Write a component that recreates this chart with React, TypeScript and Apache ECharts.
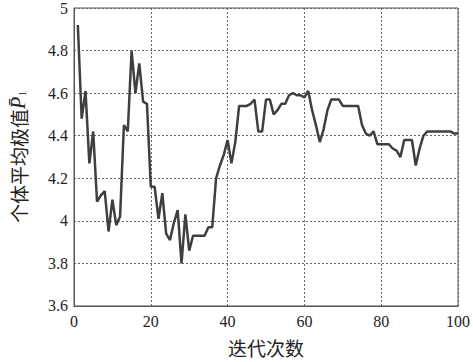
import React, { useEffect, useRef } from "react";
import * as echarts from "echarts";

const iterations: number[] = Array.from({ length: 100 }, (_, i) => i + 1);
const avgBest: number[] = [
  4.92, 4.48, 4.61, 4.27, 4.42, 4.09, 4.12, 4.14, 3.95, 4.10,
  3.98, 4.02, 4.45, 4.42, 4.80, 4.60, 4.74, 4.56, 4.55, 4.16,
  4.16, 4.01, 4.13, 3.94, 3.91, 3.99, 4.05, 3.80, 4.03, 3.86,
  3.93, 3.93, 3.93, 3.93, 3.97, 3.97, 4.20, 4.26, 4.31, 4.38,
  4.27, 4.37, 4.54, 4.54, 4.54, 4.55, 4.57, 4.42, 4.42, 4.57,
  4.57, 4.50, 4.52, 4.55, 4.55, 4.59, 4.60, 4.59, 4.59, 4.58,
  4.61, 4.52, 4.45, 4.37, 4.43, 4.52, 4.57, 4.57, 4.57, 4.54,
  4.54, 4.54, 4.54, 4.54, 4.45, 4.41, 4.40, 4.42, 4.36, 4.36,
  4.36, 4.36, 4.34, 4.33, 4.30, 4.38, 4.38, 4.38, 4.26, 4.34,
  4.40, 4.42, 4.42, 4.42, 4.42, 4.42, 4.42, 4.42, 4.41, 4.41,
];
const xLabel = "迭代次数";
const yLabel = "个体平均极值";

export default function App() {
  const ref = useRef<HTMLDivElement>(null);
  useEffect(() => {
    if (!ref.current) return;
    const chart = echarts.init(ref.current, undefined, { renderer: "svg" });
    const serif = "Times New Roman, Liberation Serif, DejaVu Serif, serif";
    const cjk = "Noto Sans CJK SC";
    chart.setOption({
      animation: false,
      backgroundColor: "#ffffff",
      textStyle: { fontFamily: serif },
      grid: {
        left: 73,
        right: 14,
        top: 8,
        bottom: 54,
        show: true,
        borderColor: "#555555",
        borderWidth: 1,
        backgroundColor: "transparent",
      },
      xAxis: {
        type: "value",
        min: 0,
        max: 100,
        interval: 20,
        name: xLabel,
        nameLocation: "middle",
        nameGap: 32,
        nameTextStyle: { fontFamily: cjk, fontSize: 19, color: "#222" },
        axisLine: { show: true, lineStyle: { color: "#555", width: 1 } },
        axisTick: { show: false },
        axisLabel: {
          fontFamily: serif,
          fontSize: 16,
          color: "#222",
          margin: 8,
          rich: { n: { fontFamily: serif, fontSize: 16, color: "#222" } },
          formatter: (v: number) => "{n|" + v + "}",
        },
        splitLine: { show: true, lineStyle: { color: "#666", type: [2, 2], width: 1 } },
      },
      yAxis: {
        type: "value",
        min: 3.6,
        max: 5,
        interval: 0.2,
        name: "{a|" + yLabel + "}{p|P\u0304}{s|1}",
        nameLocation: "middle",
        nameRotate: 90,
        nameGap: 46,
        nameTextStyle: {
          rich: {
            a: { fontFamily: cjk, fontSize: 19, color: "#222" },
            p: { fontFamily: serif, fontSize: 20, fontStyle: "italic", color: "#222" },
            s: { fontFamily: serif, fontSize: 10, color: "#222", padding: [8, 0, 0, 1] },
          },
        },
        axisLine: { show: true, lineStyle: { color: "#555", width: 1 } },
        axisTick: { show: false },
        axisLabel: {
          fontFamily: serif,
          fontSize: 16,
          color: "#222",
          margin: 6,
          rich: { n: { fontFamily: serif, fontSize: 16, color: "#222" } },
          formatter: (v: number) => "{n|" + String(Math.round(v * 10) / 10) + "}",
        },
        splitLine: { show: true, lineStyle: { color: "#666", type: [2, 2], width: 1 } },
      },
      series: [
        {
          type: "line",
          data: iterations.map((x, i) => [x, avgBest[i]]),
          showSymbol: false,
          lineStyle: { color: "#3f3f3f", width: 2.5 },
        },
      ],
    });
    return () => chart.dispose();
  }, []);
  return <div ref={ref} style={{ width: 473, height: 362, position: "absolute", left: 0, top: 0 }} />;
}
